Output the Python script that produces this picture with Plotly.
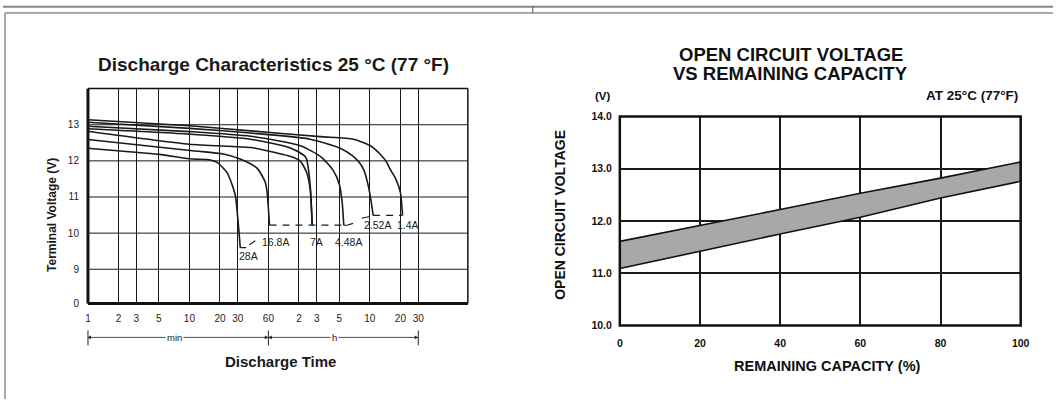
import math
import plotly.graph_objects as go

W, H = 1062, 405
FONT = "Liberation Sans"

# ---------------- Left chart data (discharge time in minutes, voltage V) -------------
curve_names = ["1.4A", "2.52A", "4.48A", "7A", "16.8A", "28A"]
t_14 = [1, 10, 40, 195, 414, 607, 755, 880, 950, 1080, 1200, 1260]
v_14 = [13.14, 12.97, 12.83, 12.67, 12.60, 12.42, 12.19, 11.96, 11.77, 11.50, 11.13, 10.49]
t_252 = [1, 10, 40, 155, 306, 400, 470, 523, 580, 627, 646]
v_252 = [13.07, 12.90, 12.77, 12.60, 12.35, 12.15, 11.96, 11.75, 11.30, 10.76, 10.49]
t_448 = [1, 10, 40, 124, 200, 262, 300, 320, 332]
v_448 = [12.96, 12.81, 12.68, 12.42, 12.10, 11.73, 11.35, 10.85, 10.22]
t_x = [1, 10, 40, 100, 140, 155, 162]
v_x = [12.89, 12.74, 12.60, 12.35, 12.10, 11.30, 10.22]
t_7 = [1, 10, 40, 58, 100, 123, 143, 155, 162]
v_7 = [12.82, 12.46, 12.37, 12.28, 12.12, 12.00, 11.68, 11.20, 10.22]
t_168 = [1, 10.7, 21.6, 31.6, 46.3, 55.9, 58.3, 61.5]
v_168 = [12.59, 12.28, 12.19, 12.05, 11.80, 11.41, 11.13, 10.22]
t_28 = [1, 5, 10.7, 15, 18.7, 23.4, 27.2, 28.5, 31.7]
v_28 = [12.35, 12.18, 12.05, 12.04, 11.96, 11.68, 11.22, 11.00, 9.60]
curves_t = [t_14, t_252, t_448, t_x, t_7, t_168, t_28]
curves_v = [v_14, v_252, v_448, v_x, v_7, v_168, v_28]

# end-of-discharge dashed connectors and leader ticks
dash_t = [[61.5, 332], [646, 1260]]
dash_v = [[10.22, 10.22], [10.49, 10.49]]
leader_t = [[31.7, 36.3], [39, 44.6], [332, 357, 410], [498, 595]]
leader_v = [[9.60, 9.60], [9.68, 9.79], [10.22, 10.22, 10.27], [10.41, 10.46]]
label_t = [1424, 718, 372, 180, 71.2, 38.6]
label_v = [10.22, 10.22, 9.75, 9.75, 9.75, 9.38]

x_tickvals = [1, 2, 3, 5, 10, 20, 30, 60, 120, 180, 300, 600, 1200, 1800]
x_ticktext = ["1", "2", "3", "5", "10", "20", "30", "60", "2", "3", "5", "10", "20", "30"]
y_tickvals = [8.05, 9, 10, 11, 12, 13]
y_ticktext = ["0", "9", "10", "11", "12", "13"]
span_labels = ["min", "h"]
span_label_t = [7.2, 270]

# ---------------- Right chart data -----------------------------------------------------
capacity = [0, 20, 40, 60, 80, 100]
ocv_upper = [11.61, 11.91, 12.22, 12.53, 12.82, 13.13]
ocv_lower = [11.09, 11.42, 11.75, 12.07, 12.44, 12.76]


# ---------------- geometry (target picture pixels -> paper fractions) -----------------
def fx(px):
    return ((px - 3) / 0.989) / W


def fy(py):
    return 1 - ((py - 3) / 0.975) / H


L_DOM_X = [fx(88), fx(468)]
L_DOM_Y = [fy(302), fy(86)]
L_XR = [0, 3.744]
L_YR = [8.05, 14.0]
R_DOM_X = [fx(620), fx(1021)]
R_DOM_Y = [fy(324), fy(114)]


def lx_paper(t):
    f = (math.log10(t) - L_XR[0]) / (L_XR[1] - L_XR[0])
    return L_DOM_X[0] + f * (L_DOM_X[1] - L_DOM_X[0])


fig = go.Figure()


def txt(x, y, text, size, color="#1a1a1a", angle=0, xanchor="center"):
    fig.add_annotation(xref="paper", yref="paper", x=fx(x), y=fy(y), text=text, showarrow=False,
                       xanchor=xanchor, yanchor="middle", textangle=angle,
                       font=dict(family=FONT, size=size, color=color))


for tt, vv in zip(curves_t, curves_v):
    fig.add_trace(go.Scatter(x=tt, y=vv, mode="lines", line=dict(color="#1a1a1a", width=1.6, shape="spline", smoothing=0.6),
                             xaxis="x", yaxis="y", showlegend=False, hoverinfo="skip"))
for tt, vv in zip(dash_t, dash_v):
    fig.add_trace(go.Scatter(x=tt, y=vv, mode="lines", line=dict(color="#1a1a1a", width=1.2, dash="7px,6px"),
                             xaxis="x", yaxis="y", showlegend=False, hoverinfo="skip"))
for tt, vv in zip(leader_t, leader_v):
    fig.add_trace(go.Scatter(x=tt, y=vv, mode="lines", line=dict(color="#1a1a1a", width=1.1),
                             xaxis="x", yaxis="y", showlegend=False, hoverinfo="skip"))
for name, tt, vv in zip(curve_names, label_t, label_v):
    fig.add_annotation(x=math.log10(tt), y=vv, xref="x", yref="y", text=name, showarrow=False,
                       xanchor="center", yanchor="middle",
                       font=dict(family=FONT, size=10.5, color="#1a1a1a"))

# band polygon on the right chart
fig.add_trace(go.Scatter(x=capacity + capacity[::-1], y=ocv_upper + ocv_lower[::-1], mode="lines",
                         fill="toself", fillcolor="#a8a8a8", line=dict(color="#111111", width=1.6),
                         xaxis="x2", yaxis="y2", showlegend=False, hoverinfo="skip"))

fig.update_layout(
    width=W, height=H, margin=dict(l=0, r=0, t=0, b=0),
    paper_bgcolor="white", plot_bgcolor="white",
    font=dict(family=FONT, color="#1a1a1a"),
    xaxis=dict(domain=L_DOM_X, type="log", range=L_XR, tickvals=x_tickvals, ticktext=x_ticktext,
               showgrid=True, gridcolor="#1a1a1a", gridwidth=1, zeroline=False, showline=False,
               ticks="", tickfont=dict(family=FONT, size=10, color="#222"), ticklabelstandoff=7,
               anchor="y", fixedrange=True),
    yaxis=dict(domain=L_DOM_Y, range=L_YR, tickvals=y_tickvals, ticktext=y_ticktext,
               showgrid=False, zeroline=False, showline=False, ticks="",
               tickfont=dict(family=FONT, size=10, color="#222"), ticklabelstandoff=8,
               anchor="x", fixedrange=True),
    xaxis2=dict(domain=R_DOM_X, range=[0, 100], tickvals=capacity, ticktext=[f"<b>{c}</b>" for c in capacity],
                showgrid=True, gridcolor="#1a1a1a", gridwidth=2, zeroline=False, showline=False, ticks="",
                tickfont=dict(family=FONT, size=10.5, color="#111"), ticklabelstandoff=10,
                anchor="y2", fixedrange=True),
    yaxis2=dict(domain=R_DOM_Y, range=[10, 14], tickvals=[10, 11, 12, 13, 14],
                ticktext=["<b>10.0</b>", "<b>11.0</b>", "<b>12.0</b>", "<b>13.0</b>", "<b>14.0</b>"],
                showgrid=True, gridcolor="#1a1a1a", gridwidth=2, zeroline=False, showline=False, ticks="",
                tickfont=dict(family=FONT, size=10.5, color="#111"), ticklabelstandoff=7,
                anchor="x2", fixedrange=True),
)

# horizontal grid lines of the left chart (9..13)
for v in [9, 10, 11, 12, 13]:
    fig.add_shape(type="line", xref="x domain", yref="y", x0=0, x1=1, y0=v, y1=v,
                  line=dict(color="#1a1a1a", width=1), layer="below")

# left chart frame: thick left & bottom, thinner top & right
fig.add_shape(type="line", xref="x domain", yref="y domain", x0=0, x1=1, y0=1, y1=1, line=dict(color="#111", width=1.5))
fig.add_shape(type="line", xref="x domain", yref="y domain", x0=1, x1=1, y0=0, y1=1, line=dict(color="#111", width=1.5))
fig.add_shape(type="line", xref="x domain", yref="y domain", x0=0, x1=0, y0=0, y1=1, line=dict(color="#111", width=3))
fig.add_shape(type="line", xref="x domain", yref="y domain", x0=0, x1=1, y0=0, y1=0, line=dict(color="#111", width=3))

# right chart frame
fig.add_shape(type="rect", xref="x2 domain", yref="y2 domain", x0=0, x1=1, y0=0, y1=1,
              line=dict(color="#111", width=2.5))

# page frame decoration
top_y = 1 - 0.8 / H
fig.add_shape(type="line", xref="paper", yref="paper", x0=0, x1=1, y0=top_y, y1=top_y, line=dict(color="#888", width=2))
fig.add_shape(type="line", xref="paper", yref="paper", x0=fx(533), x1=fx(533), y0=1, y1=fy(10), line=dict(color="#555", width=1))
fig.add_shape(type="line", xref="paper", yref="paper", x0=fx(5), x1=1, y0=fy(10), y1=fy(10), line=dict(color="#555", width=1))
fig.add_shape(type="line", xref="paper", yref="paper", x0=fx(5), x1=fx(5), y0=0, y1=fy(10), line=dict(color="#555", width=1))

# discharge-time span arrows under the left chart
ya = fy(336)
for ta, tb in [(1, 60), (60, 1800)]:
    xa, xb = lx_paper(ta), lx_paper(tb)
    fig.add_annotation(xref="paper", yref="paper", x=xb, y=ya, ax=-(xb - xa) * W, ay=0,
                       axref="pixel", ayref="pixel", text="", showarrow=True, arrowhead=2, arrowsize=0.9,
                       arrowwidth=0.8, arrowcolor="#222", startarrowhead=2, arrowside="end+start",
                       startarrowsize=0.9, standoff=0, startstandoff=0)
for tb in [1, 60, 1800]:
    fig.add_shape(type="line", xref="paper", yref="paper", x0=lx_paper(tb), x1=lx_paper(tb),
                  y0=fy(329), y1=fy(344), line=dict(color="#222", width=1))
for label, tm in zip(span_labels, span_label_t):
    fig.add_annotation(xref="paper", yref="paper", x=lx_paper(tm), y=ya, text=label, showarrow=False,
                       xanchor="center", yanchor="middle",
                       font=dict(family=FONT, size=9.5, color="#222"), bgcolor="white", borderpad=1)

# titles
txt(274, 62, "<b>Discharge Characteristics 25 °C (77 °F)</b>", 19)
txt(52, 213, "<b>Terminal Voltage (V)</b>", 12, angle=-90)
txt(281, 360, "<b>Discharge Time</b>", 15)

txt(791, 52, "<b>OPEN CIRCUIT VOLTAGE</b>", 18.5, color="#111")
txt(791, 71, "<b>VS REMAINING CAPACITY</b>", 18.5, color="#111")
txt(603, 93, "<b>(V)</b>", 11.5, color="#111")
txt(1020, 93, "<b>AT 25°C (77°F)</b>", 13.5, color="#111", xanchor="right")
txt(560, 213, "<b>OPEN CIRCUIT VOLTAGE</b>", 14, color="#111", angle=-90)
txt(828, 365, "<b>REMAINING CAPACITY (%)</b>", 14.5, color="#111")

fig.write_html("out.html", config={"displayModeBar": False},
               post_script="document.body.style.margin='0px';document.body.style.overflow='hidden';")
